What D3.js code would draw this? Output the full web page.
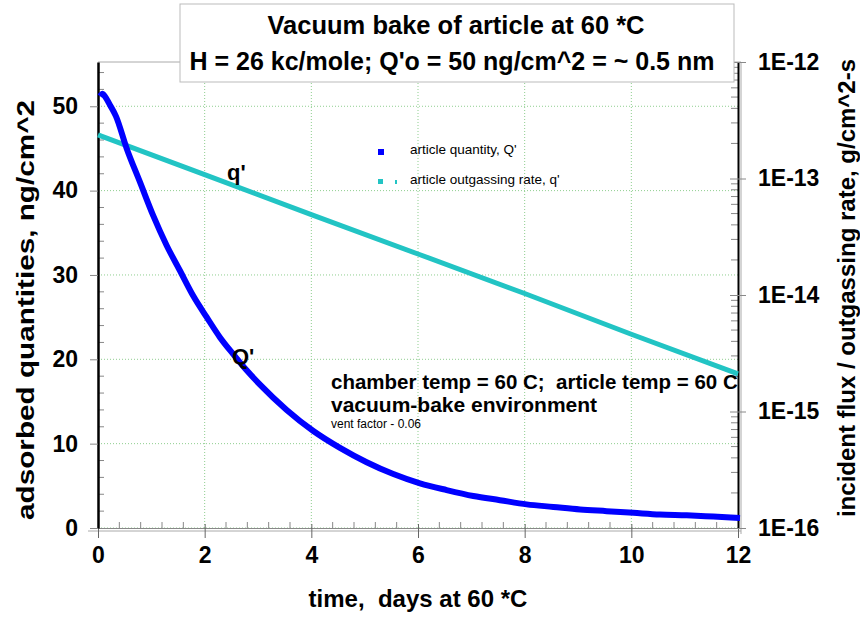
<!DOCTYPE html>
<meta charset="utf-8">
<style>
body { margin: 0; background: #fff; }
svg { font-family: "Liberation Sans", Arial, sans-serif; }
.tick text { font-size: 23px; font-weight: bold; fill: #000; }
.lbl { font-weight: bold; fill: #000; white-space: pre; }
.grid line { stroke: #8fce8f; stroke-dasharray: 1,2; stroke-width: 1; }
</style>
<body>
<svg id="chart" width="860" height="617"></svg>
<script src="https://d3js.org/d3.v7.min.js"></script>
<script>

// time, days
let days = [0, 0.05, 0.1, 0.2, 0.3, 0.5, 0.75, 1, 1.25, 1.5, 1.75, 2, 2.25, 2.5, 2.75, 3, 3.5, 4, 4.5,
            5, 5.5, 6, 6.5, 7, 7.5, 8, 8.5, 9, 9.5, 10, 10.5, 11, 11.5, 12];
// article quantity Q', ng/cm^2
let quantity = [51.2, 51.5, 51.1, 50.0, 48.8, 45.0, 41.0, 37.0, 33.5, 30.5, 27.5, 25.0, 22.6, 20.6, 18.7, 17.0, 14.0, 11.5, 9.5,
                7.8, 6.4, 5.3, 4.5, 3.8, 3.3, 2.8, 2.5, 2.2, 2.0, 1.8, 1.6, 1.5, 1.35, 1.2];
// article outgassing rate q', g/cm^2-s
let rateDays = [0, 2, 4, 6, 8, 10, 12];
let rate = [2.37e-13, 1.08e-13, 4.9e-14, 2.25e-14, 1.03e-14, 4.6e-15, 2.1e-15];

let xTicks = [0, 2, 4, 6, 8, 10, 12];
let yTicks = [0, 10, 20, 30, 40, 50];
let rTicks = [1e-16, 1e-15, 1e-14, 1e-13, 1e-12];

let plot = {left: 98, right: 738, top: 62, bottom: 528};

let svg = d3.select('#chart');

let x = d3.scaleLinear().domain([0, 12]).range([plot.left, plot.right]);
let y = d3.scaleLinear().domain([0, 55.25]).range([plot.bottom, plot.top]);
let yr = d3.scaleLog().domain([1e-16, 1e-12]).range([plot.bottom, plot.top]);

// grid
let grid = svg.append('g').attr('class', 'grid');
grid.selectAll('.vg').data(xTicks.slice(1, -1)).enter().append('line')
  .attr('x1', d => x(d)).attr('x2', d => x(d)).attr('y1', plot.top).attr('y2', plot.bottom);
grid.selectAll('.hg').data(yTicks).enter().append('line')
  .attr('x1', plot.left).attr('x2', plot.right).attr('y1', d => y(d)).attr('y2', d => y(d));

// frame lines
svg.append('line').attr('x1', plot.left).attr('x2', plot.right + 3).attr('y1', plot.top).attr('y2', plot.top)
  .attr('stroke', '#aaa');
svg.append('line').attr('x1', plot.left - 10).attr('x2', plot.right + 3).attr('y1', plot.bottom + 3).attr('y2', plot.bottom + 3)
  .attr('stroke', '#aaa');
svg.append('line').attr('x1', plot.right + 3).attr('x2', plot.right + 3).attr('y1', plot.top).attr('y2', plot.bottom + 6)
  .attr('stroke', '#aaa');

// minor ticks (inside)
let minorX = d3.range(0, 12.01, 0.4).filter(d => Math.abs(d / 2 - Math.round(d / 2)) > 0.01);
svg.append('g').selectAll('line').data(minorX).enter().append('line')
  .attr('x1', d => x(d)).attr('x2', d => x(d)).attr('y1', plot.bottom).attr('y2', plot.bottom - 6)
  .attr('stroke', '#888');
let minorY = d3.range(0, 55, 2).filter(d => d % 10 != 0);
svg.append('g').selectAll('line').data(minorY).enter().append('line')
  .attr('x1', plot.left).attr('x2', plot.left + 6).attr('y1', d => y(d)).attr('y2', d => y(d))
  .attr('stroke', '#888');
let minorR = [];
[-16, -15, -14, -13].forEach(e => { for (let m = 2; m <= 9; m++) minorR.push(m * Math.pow(10, e)); });
svg.append('g').selectAll('line').data(minorR).enter().append('line')
  .attr('x1', plot.right).attr('x2', plot.right - 7).attr('y1', d => yr(d)).attr('y2', d => yr(d))
  .attr('stroke', '#888');

// axes
let xAxis = svg.append('g').attr('transform', 'translate(0,' + plot.bottom + ')')
  .call(d3.axisBottom(x).tickValues(xTicks).tickSize(10).tickPadding(9).tickSizeOuter(0));
xAxis.select('.domain').attr('stroke', '#888');
xAxis.selectAll('.tick line').attr('stroke', '#666').attr('y1', -4);

let yAxis = svg.append('g').attr('transform', 'translate(' + plot.left + ',0)')
  .call(d3.axisLeft(y).tickValues(yTicks).tickSize(8).tickPadding(12).tickSizeOuter(0));
yAxis.select('.domain').attr('stroke', '#000').attr('stroke-width', 2.5);
yAxis.selectAll('.tick line').attr('stroke', '#888');

let rAxis = svg.append('g').attr('transform', 'translate(' + plot.right + ',0)')
  .call(d3.axisRight(yr).tickValues(rTicks).tickFormat(d => '1E' + Math.round(Math.log10(d)))
    .tickSize(8).tickPadding(12).tickSizeOuter(0));
rAxis.select('.domain').attr('stroke', '#000').attr('stroke-width', 2);
rAxis.selectAll('.tick line').attr('stroke', '#888').attr('x1', -8);

// series
let rows = days.map((d, i) => ({t: d, q: quantity[i]}));
let rateRows = rateDays.map((d, i) => ({t: d, r: rate[i]}));

svg.append('path').datum(rateRows)
  .attr('fill', 'none').attr('stroke', '#22c4c4').attr('stroke-width', 5)
  .attr('d', d3.line().x(d => x(d.t)).y(d => yr(d.r)));

svg.append('path').datum(rows)
  .attr('fill', 'none').attr('stroke', '#0000ff').attr('stroke-width', 6)
  .attr('d', d3.line().curve(d3.curveMonotoneX).x(d => x(d.t) + 2).y(d => y(d.q)));

// axis titles
svg.append('text').attr('class', 'lbl').attr('font-size', 24).attr('text-anchor', 'middle')
  .attr('x', 418).attr('y', 607).text('time,  days at 60 *C');
svg.append('text').attr('class', 'lbl').attr('font-size', 23).attr('text-anchor', 'middle')
  .attr('textLength', 420).attr('lengthAdjust', 'spacingAndGlyphs')
  .attr('transform', 'translate(34,310) rotate(-90)').text('adsorbed quantities, ng/cm^2');
svg.append('text').attr('class', 'lbl').attr('font-size', 24).attr('text-anchor', 'middle')
  .attr('transform', 'translate(855,288) rotate(-90)').text('incident flux / outgassing rate, g/cm^2-s');

// title box
svg.append('rect').attr('x', 180).attr('y', 4).attr('width', 554).attr('height', 78)
  .attr('fill', '#fff').attr('stroke', '#bbb');
svg.append('text').attr('class', 'lbl').attr('font-size', 25.5).attr('text-anchor', 'middle')
  .attr('x', 456).attr('y', 34).text('Vacuum bake of article at 60 *C');
svg.append('text').attr('class', 'lbl').attr('font-size', 25).attr('text-anchor', 'middle')
  .attr('x', 452).attr('y', 70).text("H = 26 kc/mole; Q'o = 50 ng/cm^2 = ~ 0.5 nm");

// legend
svg.append('rect').attr('x', 378).attr('y', 149).attr('width', 6).attr('height', 6).attr('fill', '#0000ff');
svg.append('text').attr('font-size', 13.5).attr('x', 410).attr('y', 154).text("article quantity, Q'");
svg.append('rect').attr('x', 378).attr('y', 179).attr('width', 5).attr('height', 5).attr('fill', '#22c4c4');
svg.append('rect').attr('x', 395).attr('y', 180).attr('width', 2).attr('height', 4).attr('fill', '#22c4c4');
svg.append('text').attr('font-size', 13.5).attr('x', 410).attr('y', 184).text("article outgassing rate, q'");

// curve labels
svg.append('text').attr('class', 'lbl').attr('font-size', 22).attr('x', 227).attr('y', 180).text("q'");
svg.append('text').attr('class', 'lbl').attr('font-size', 22).attr('x', 232).attr('y', 364).text("Q'");

// annotation
svg.append('text').attr('class', 'lbl').attr('font-size', 20.5).attr('x', 331).attr('y', 389)
  .text('chamber temp = 60 C;  article temp = 60 C');
svg.append('text').attr('class', 'lbl').attr('font-size', 21).attr('x', 331).attr('y', 412)
  .text('vacuum-bake environment');
svg.append('text').attr('font-size', 12).attr('x', 331).attr('y', 428).text('vent factor - 0.06');

</script>
</body>
